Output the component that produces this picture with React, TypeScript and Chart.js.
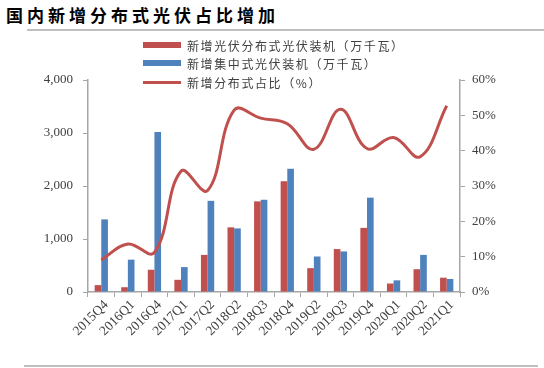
import React, { useEffect, useRef } from "react";
import { Chart, registerables } from "chart.js";

Chart.register(...registerables);

const categories = ["2015Q4", "2016Q1", "2016Q4", "2017Q1", "2017Q2", "2018Q2", "2018Q3", "2018Q4", "2019Q2", "2019Q3", "2019Q4", "2020Q1", "2020Q2", "2021Q1"];
const distributed = [130, 90, 420, 230, 700, 1220, 1710, 2090, 450, 810, 1210, 160, 430, 270];
const centralized = [1370, 610, 3020, 470, 1720, 1200, 1740, 2325, 670, 765, 1780, 220, 700, 245];
const shareLine = [9.1, 13.6, 11.2, 34.2, 28.7, 51.5, 49.2, 47.6, 40.4, 51.7, 40.6, 43.7, 38.3, 52.7];
const leftTicks = [0, 1000, 2000, 3000, 4000];
const rightTicks = [0, 10, 20, 30, 40, 50, 60];

const titleText = "国内新增分布式光伏占比增加";
const legendLabels = ["新增光伏分布式光伏装机（万千瓦）", "新增集中式光伏装机（万千瓦）", "新增分布式占比（%）"];

const RED = "#C0504D";
const BLUE = "#4F81BD";
const AXIS = "#A6A6A6";
const TEXT = "#404040";

export default function App() {
  const ref = useRef<HTMLCanvasElement | null>(null);

  useEffect(() => {
    if (!ref.current) return;
    const chart = new Chart(ref.current, {
      type: "bar",
      data: {
        labels: categories,
        datasets: [
          {
            type: "line",
            label: legendLabels[2],
            data: shareLine,
            yAxisID: "y1",
            borderColor: RED,
            backgroundColor: RED,
            borderWidth: 3,
            pointRadius: 0,
            tension: 0.4,
            order: 0,
          } as any,
          {
            label: legendLabels[0],
            data: distributed,
            backgroundColor: RED,
            yAxisID: "y",
            categoryPercentage: 0.5,
            barPercentage: 1,
            order: 1,
          },
          {
            label: legendLabels[1],
            data: centralized,
            backgroundColor: BLUE,
            yAxisID: "y",
            categoryPercentage: 0.5,
            barPercentage: 1,
            order: 1,
          },
        ],
      },
      options: {
        responsive: false,
        maintainAspectRatio: false,
        animation: false,
        layout: { padding: { top: 80, left: 0, right: 0, bottom: 0 } },
        plugins: { legend: { display: false }, tooltip: { enabled: false } },
        scales: {
          x: {
            grid: { drawOnChartArea: false, drawTicks: true, tickLength: 5, color: AXIS, offset: true },
            border: { color: AXIS, width: 1.5 },
            ticks: {
              minRotation: 45,
              maxRotation: 45,
              autoSkip: false,
              padding: 0,
              labelOffset: 5,
              color: TEXT,
              font: { family: "Liberation Serif", size: 13.5 },
            },
            afterFit: (s: any) => {
              s.height = 76;
            },
          },
          y: {
            position: "left",
            min: 0,
            max: 4000,
            afterBuildTicks: (s: any) => {
              s.ticks = leftTicks.map((v) => ({ value: v }));
            },
            grid: { drawOnChartArea: false, drawTicks: true, tickLength: 5, color: AXIS },
            border: { color: AXIS, width: 1.5 },
            ticks: {
              padding: 10,
              color: TEXT,
              font: { family: "Liberation Serif", size: 13 },
              callback: (v: any) => Number(v).toLocaleString("en-US"),
            },
            afterFit: (s: any) => {
              s.width = 88;
            },
          },
          y1: {
            position: "right",
            min: 0,
            max: 60,
            afterBuildTicks: (s: any) => {
              s.ticks = rightTicks.map((v) => ({ value: v }));
            },
            grid: { drawOnChartArea: false, drawTicks: true, tickLength: 5, color: AXIS },
            border: { color: AXIS, width: 1.5 },
            ticks: {
              padding: 7,
              color: TEXT,
              font: { family: "Liberation Serif", size: 13 },
              callback: (v: any) => `${v}%`,
            },
            afterFit: (s: any) => {
              s.width = 84;
            },
          },
        },
      },
    });
    return () => chart.destroy();
  }, []);

  const legendRow = (i: number, top: number, isLine: boolean, color: string) => (
    <div key={i} style={{ position: "absolute", left: 143, top: top - 9, height: 18, display: "flex", alignItems: "center" }}>
      <div style={{ width: 38, height: isLine ? 3 : 6, background: color }} />
      <span
        style={{
          marginLeft: 6,
          fontFamily: "'Noto Sans CJK SC'",
          fontSize: 12,
          letterSpacing: 1.6,
          color: TEXT,
          whiteSpace: "nowrap",
        }}
      >
        {legendLabels[i]}
      </span>
    </div>
  );

  return (
    <div style={{ position: "fixed", left: 0, top: 0, width: 544, height: 368, background: "#fff", overflow: "hidden" }}>
      <div
        style={{
          position: "absolute",
          left: 6,
          top: 2,
          fontFamily: "'Noto Sans CJK SC'",
          fontWeight: 700,
          fontSize: 17,
          letterSpacing: 4,
          color: "#000",
          whiteSpace: "nowrap",
        }}
      >
        {titleText}
      </div>
      <div style={{ position: "absolute", left: 27, top: 29, width: 517, height: 1.5, background: "#BFBFBF" }} />
      <canvas ref={ref} width={544} height={368} style={{ position: "absolute", left: 0, top: 0 }} />
      {legendRow(0, 45, false, RED)}
      {legendRow(1, 63, false, BLUE)}
      {legendRow(2, 82, true, RED)}
      <div style={{ position: "absolute", left: 24, top: 365, width: 514, height: 1.5, background: "#BFBFBF" }} />
    </div>
  );
}
